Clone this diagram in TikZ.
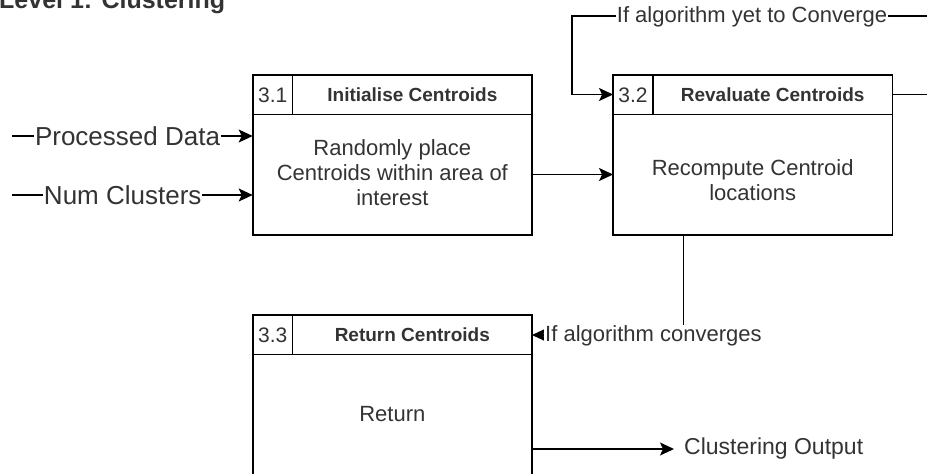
\documentclass[tikz,border=0pt]{standalone}
\usepackage{fontspec}
\setmainfont{Liberation Sans}
\usetikzlibrary{arrows.meta,calc}
\definecolor{txt}{HTML}{333333}
\begin{document}
\begin{tikzpicture}[x=1pt,y=-1pt,
  procbox/.style={draw=black,line width=1.7pt,minimum width=279.3pt,minimum height=160pt,inner sep=0pt,outer sep=0pt},
  sepline/.style={draw=black,line width=1.5pt},
  conn/.style={draw=black,line width=1.4pt},
  arr/.style={conn,-{Stealth[length=14pt,width=13pt,inset=3pt]}},
  numtxt/.style={text=txt,font=\fontsize{21}{24}\selectfont,inner sep=0pt},
  headtxt/.style={text=txt,font=\fontsize{19}{22}\selectfont\bfseries,inner sep=0pt},
  bodytxt/.style={text=txt,font=\fontsize{22}{25}\selectfont,align=center,inner sep=0pt},
  lbl/.style={text=txt,font=\fontsize{22}{25}\selectfont,fill=white,inner sep=1pt},
  biglbl/.style={text=txt,font=\fontsize{26}{29}\selectfont,fill=white,inner sep=1pt}]
\useasboundingbox (0,0) rectangle (927,474);

% title
\node[anchor=base west,font=\fontsize{25}{28}\selectfont\bfseries,text=txt,inner sep=0pt] (title) at (-1,8) {Level 1: Clustering};

% boxes
\node[procbox] (b31) at (392.35,155) {};
\node[procbox] (b32) at (752.7,155) {};
\node[procbox] (b33) at (392.35,395) {};

\foreach \b in {b31,b32,b33}{
  \draw[sepline] ([yshift=-39.5pt]\b.north west) -- ([yshift=-39.5pt]\b.north east);
  \draw[sepline] ([xshift=40pt]\b.north west) -- ([xshift=40pt,yshift=-39.5pt]\b.north west);
}

\node[numtxt] (n31) at ([xshift=20pt,yshift=-20pt]b31.north west) {3.1};
\node[headtxt] (h31) at ([xshift=159.65pt,yshift=-20pt]b31.north west) {Initialise Centroids};
\node[bodytxt] (t31) at ([yshift=-18pt]b31.center) {Randomly place\\Centroids within area of\\interest};

\node[numtxt] (n32) at ([xshift=20pt,yshift=-20pt]b32.north west) {3.2};
\node[headtxt] (h32) at ([xshift=159.65pt,yshift=-20pt]b32.north west) {Revaluate Centroids};
\node[bodytxt] (t32) at ([yshift=-25pt]b32.center) {Recompute Centroid\\locations};

\node[numtxt] (n33) at ([xshift=20pt,yshift=-20pt]b33.north west) {3.3};
\node[headtxt] (h33) at ([xshift=159.65pt,yshift=-20pt]b33.north west) {Return Centroids};
\node[bodytxt] (t33) at ([yshift=-19pt]b33.center) {Return};

% inputs
\coordinate (pd0) at (12,136);
\coordinate (nc0) at (12,195);
\draw[arr] (pd0) -- (pd0 -| b31.west) node[pos=0.48,biglbl] (lpd) {Processed Data};
\draw[arr] (nc0) -- (nc0 -| b31.west) node[pos=0.46,biglbl] (lnc) {Num Clusters};

% 3.1 -> 3.2
\draw[arr] ([yshift=-19.5pt]b31.east) -- ([yshift=-19.5pt]b32.west);

% loop
\coordinate (lr) at (936,16);
\coordinate (ll) at (572,16);
\coordinate (lin) at ([yshift=-19.5pt]b32.north west);
\coordinate (lout) at ([yshift=-19.5pt]b32.north east);
\draw[arr] (lout) -- (lout -| lr) -- (lr) -- (ll) -- (ll |- lin) -- (lin);
\node[lbl] (lloop) at (752,17) {If algorithm yet to Converge};

% converge
\coordinate (cv) at (683.3,335);
\draw[arr] (b32.south -| cv) -- (cv) -- (cv -| b33.east);
\node[lbl,anchor=west] (lcv) at (544,336) {If algorithm converges};

% output
\node[text=txt,font=\fontsize{23}{26}\selectfont,anchor=west,inner sep=0pt] (out) at (684,449) {Clustering Output};
\draw[arr] (b33.east |- out.west) -- ([xshift=-10pt]out.west);
\end{tikzpicture}
\end{document}
